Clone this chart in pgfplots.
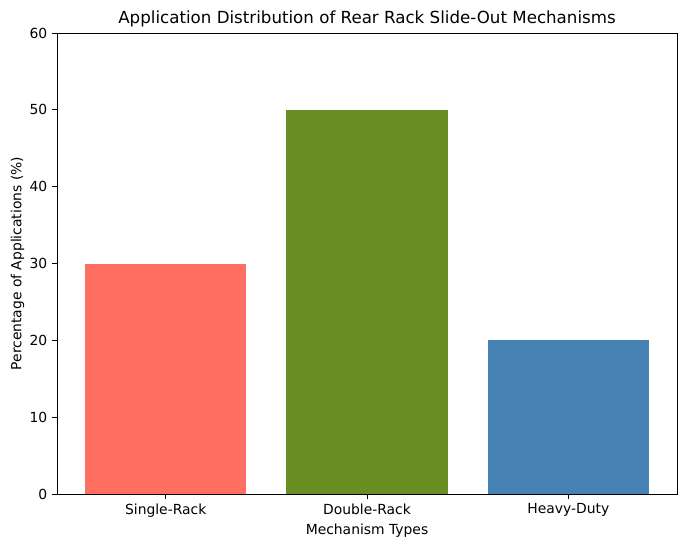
\documentclass[border=0pt]{standalone}
\usepackage{pgfplots}
\pgfplotsset{compat=1.18}
\usepackage{fontspec}
\setmainfont{DejaVu Sans}
\definecolor{barred}{HTML}{FF6F61}
\definecolor{bargreen}{HTML}{6B8E23}
\definecolor{barblue}{HTML}{4682B4}
\begin{document}
\begin{tikzpicture}
\begin{axis}[
    scale only axis,
    width=446.4pt, height=331.9pt,
    xmin=-0.54, xmax=2.54,
    ymin=0, ymax=60,
    xtick={0,1,2},
    xticklabels={Single-Rack,Double-Rack,Heavy-Duty},
    ytick={0,10,...,60},
    xtick pos=bottom, ytick pos=left,
    tick align=outside,
    major tick length=3.5pt,
    tick style={black, line width=0.6pt},
    axis line style={line width=0.6pt},
    /pgf/number format/assume math mode=true,
    tick label style={font=\fontsize{10}{12}\selectfont},
    label style={font=\fontsize{10}{12}\selectfont},
    title style={font=\fontsize{12}{14}\selectfont, yshift=-5pt},
    title={Application Distribution of Rear Rack Slide-Out Mechanisms},
    xlabel={Mechanism Types},
    xlabel style={yshift=2pt},
    ylabel={Percentage of Applications (\%)},
    ylabel style={yshift=-3pt},
    ybar, bar width=0.8, bar shift=0pt,
]
\addplot[draw=none, fill=barred] coordinates {(0,30)};
\addplot[draw=none, fill=bargreen] coordinates {(1,50)};
\addplot[draw=none, fill=barblue] coordinates {(2,20)};
\end{axis}
\pgfresetboundingbox
\path (-41.04pt,-38.16pt) rectangle (452.88pt,355.7pt);
\end{tikzpicture}
\end{document}
